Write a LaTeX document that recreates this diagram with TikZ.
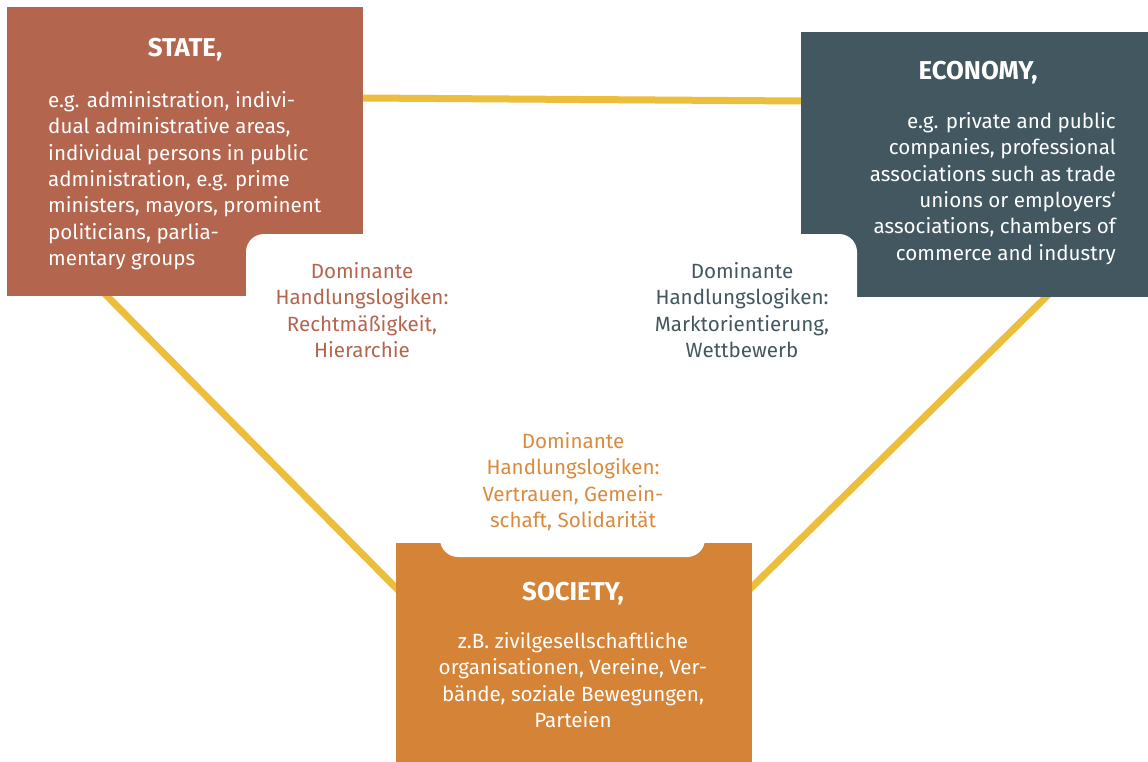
\documentclass[tikz,border=0pt]{standalone}
\usepackage{fontspec}
\setmainfont{Fira Sans}
\usetikzlibrary{calc}
\definecolor{statec}{HTML}{B3654E}
\definecolor{econc}{HTML}{42575F}
\definecolor{socc}{HTML}{D58336}
\definecolor{socl}{HTML}{D98A3D}
\definecolor{linec}{HTML}{EDBE3C}
\pgfdeclarelayer{background}
\pgfsetlayers{background,main}
\tikzset{
  box/.style={inner sep=0pt, outer sep=0pt, anchor=north west},
  boxtitle/.style={font=\fontsize{25.8}{30}\selectfont\bfseries, text=white, inner sep=0pt, anchor=base},
  boxbody/.style={font=\fontsize{20.6}{26.4}\selectfont, text=white, inner sep=0pt},
  logic/.style={font=\fontsize{20.6}{26.4}\selectfont, inner sep=0pt, align=center, anchor=north},
  link/.style={draw=linec, line width=7pt},
  cutout/.style={fill=white, rounded corners=18pt}
}
\begin{document}
\begin{tikzpicture}[x=1pt, y=-1pt]
\useasboundingbox (0,0) rectangle (1148,762);

% the three sector boxes
\node[box, fill=statec, minimum width=355.5pt, minimum height=289pt] (state) at (7,7) {};
\node[box, fill=econc, minimum width=347pt, minimum height=265pt] (eco) at (801,32) {};
\node[box, fill=socc, minimum width=356pt, minimum height=219pt] (soc) at (396,543) {};

% rounded white fields cut into the inner corners of the boxes
\begin{scope}
  \clip ($(state.north west)+(-1,-1)$) rectangle ($(state.south east)+(1,1)$)
        ($(eco.north west)+(-1,-1)$) rectangle ($(eco.south east)+(1,1)$);
  \fill[cutout] (246,234) rectangle (857,400);
\end{scope}
\begin{scope}
  \clip ($(soc.north west)+(-1,-1)$) rectangle ($(soc.south east)+(1,1)$);
  \fill[cutout] (440,450) rectangle (705,557);
\end{scope}

% yellow connectors between the sectors
\coordinate (tA) at ($(state.north east)+(0,91)$);
\coordinate (tB) at ($(eco.north west)+(0,69)$);
\coordinate (sA) at ($(state.south west)+(100,0)$);
\coordinate (sB) at ($(soc.north west)+(0,45)$);
\coordinate (eA) at ($(eco.south west)+(245,0)$);
\coordinate (eB) at ($(soc.north east)+(0,44)$);
\begin{pgfonlayer}{background}
  \draw[link] ($(tA)!-8pt!(tB)$) -- ($(tB)!-8pt!(tA)$);
  \draw[link] ($(sA)!-8pt!(sB)$) -- ($(sB)!-8pt!(sA)$);
  \draw[link] ($(eA)!-8pt!(eB)$) -- ($(eB)!-8pt!(eA)$);
\end{pgfonlayer}

% box texts
\node[boxtitle] (statet) at (185,57) {STATE,};
\node[boxbody, align=left, anchor=north west] (stateb) at (48,91) {e.g. administration, indivi-\\
dual administrative areas,\\
individual persons in public\\
administration, e.g. prime\\
ministers, mayors, prominent\\
politicians, parlia-\\
mentary groups};

\node[boxtitle] (ecot) at (978,80) {ECONOMY,};
\node[boxbody, align=right, anchor=north east] (ecob) at (1116,112) {e.g. private and public\\
companies, professional\\
associations such as trade\\
unions or employers‘\\
associations, chambers of\\
commerce and industry};

\node[boxtitle] (soct) at (573,600) {SOCIETY,};
\node[boxbody, align=center, anchor=north] (socb) at (573,632) {z.B. zivilgesellschaftliche\\
organisationen, Vereine, Ver-\\
bände, soziale Bewegungen,\\
Parteien};

% dominant logics of action
\node[logic, text=statec] (statel) at (362,262) {Dominante\\Handlungslogiken:\\Rechtmäßigkeit,\\Hierarchie};
\node[logic, text=econc] (ecol) at (742,262) {Dominante\\Handlungslogiken:\\Marktorientierung,\\Wettbewerb};
\node[logic, text=socl] (socl) at (573,432) {Dominante\\Handlungslogiken:\\Vertrauen, Gemein-\\schaft, Solidarität};
\end{tikzpicture}
\end{document}
